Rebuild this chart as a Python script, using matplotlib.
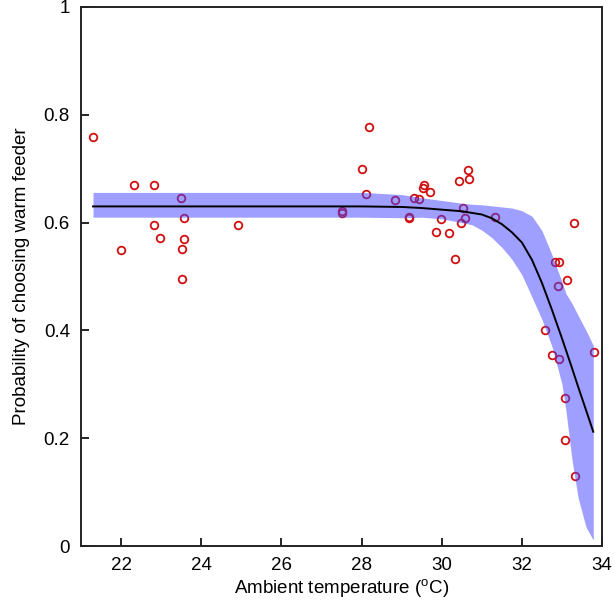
import matplotlib
matplotlib.use('Agg')
import numpy as np
from matplotlib import pyplot as plt
from matplotlib.ticker import FuncFormatter

plt.rcParams['font.family'] = ['Liberation Sans', 'DejaVu Sans']
plt.rcParams['mathtext.fontset'] = 'custom'
plt.rcParams['mathtext.rm'] = 'Liberation Sans'

# observed points (temperature, proportion)
temp = [21.31, 22.0, 22.31, 22.83, 23.5, 22.83, 22.96, 23.56, 23.56, 23.53, 23.53, 24.91,
        28.18, 28.0, 28.12, 27.5, 27.5, 28.83, 29.19, 29.18, 29.31, 29.44, 29.53, 29.55,
        29.7, 29.98, 29.86, 30.19, 30.32, 30.43, 30.66, 30.68, 30.53, 30.58, 30.48, 31.33,
        33.29, 32.83, 32.92, 33.13, 32.91,
        32.57, 32.74, 32.93, 33.79, 33.08, 33.08, 33.33]
prop = [0.758, 0.549, 0.669, 0.669, 0.646, 0.595, 0.572, 0.609, 0.569, 0.551, 0.496, 0.595,
        0.778, 0.699, 0.653, 0.621, 0.617, 0.641, 0.611, 0.608, 0.645, 0.643, 0.664, 0.670,
        0.657, 0.607, 0.582, 0.581, 0.533, 0.678, 0.697, 0.680, 0.627, 0.609, 0.600, 0.611,
        0.600, 0.526, 0.526, 0.494, 0.482,
        0.401, 0.355, 0.346, 0.359, 0.275, 0.196, 0.129]

# fitted curve and confidence band
fit_x = [21.3, 28.0, 29.0, 29.5, 30.0, 30.5, 30.75, 31.0, 31.25, 31.5, 31.75, 32.0,
         32.25, 32.5, 32.75, 33.0, 33.1, 33.25, 33.4, 33.6, 33.78]
fit_y = [0.630, 0.630, 0.629, 0.627, 0.624, 0.621, 0.618, 0.615, 0.608, 0.597, 0.582, 0.563,
         0.531, 0.488, 0.438, 0.385, 0.363, 0.330, 0.296, 0.252, 0.212]
band_hi = [0.656, 0.656, 0.652, 0.646, 0.641, 0.636, 0.634, 0.633, 0.631, 0.629, 0.627, 0.622,
           0.612, 0.585, 0.540, 0.490, 0.468, 0.450, 0.428, 0.400, 0.372]
band_lo = [0.610, 0.610, 0.609, 0.610, 0.607, 0.600, 0.596, 0.586, 0.572, 0.554, 0.532, 0.503,
           0.462, 0.420, 0.370, 0.300, 0.250, 0.160, 0.090, 0.035, 0.011]

fig = plt.figure(figsize=(6.15, 6.06), dpi=100)
ax = fig.add_axes([0.1317, 0.099, 0.8473, 0.8895])

ax.plot(temp, prop, 'o', mfc='none', mec='#d01010', mew=1.3, ms=5.5, zorder=1)
ax.fill_between(fit_x, band_lo, band_hi, color=(0.25, 0.25, 1.0), alpha=0.5, lw=0, zorder=2)
ax.plot(fit_x, fit_y, color='black', lw=1.4, zorder=3)

ax.set_xlim(21, 34)
ax.set_ylim(0, 1)
ax.set_xticks([22, 24, 26, 28, 30, 32, 34])
ax.set_yticks([0, 0.2, 0.4, 0.6, 0.8, 1])
ax.yaxis.set_major_formatter(FuncFormatter(lambda v, p: '%g' % v))
ax.tick_params(direction='in', length=6, width=1.2, labelsize=13.5)
ax.tick_params(axis='x', pad=8)
ax.tick_params(axis='y', pad=8)
for s in ax.spines.values():
    s.set_linewidth(1.4)
    s.set_color('#222222')

ax.set_xlabel('Ambient temperature ($^{\\mathrm{o}}$C)', fontsize=13.5, labelpad=2)
ax.set_ylabel('Probability of choosing warm feeder', fontsize=13.5, labelpad=10)

fig.savefig('out.png', dpi=100)
